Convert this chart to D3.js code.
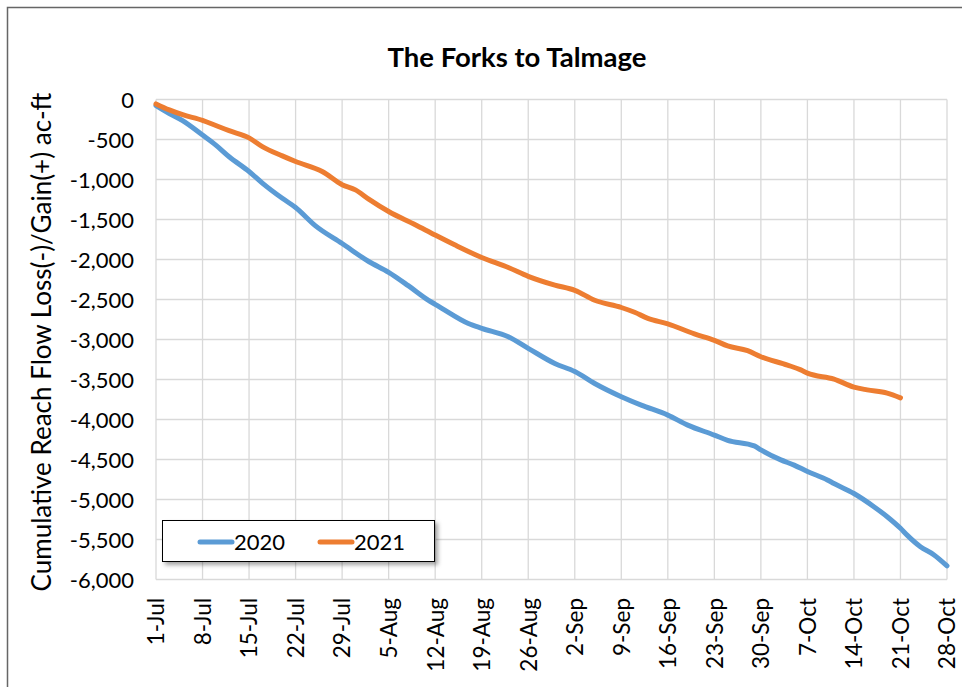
<!DOCTYPE html>
<html>
<head>
<meta charset="utf-8">
<script src="https://cdnjs.cloudflare.com/ajax/libs/d3/7.8.5/d3.min.js"></script>
<style>
  body { margin: 0; background: #fff; }
  text { font-family: Lato, "Open Sans", sans-serif; fill: #000; }
</style>
</head>
<body>
<div id="chart"></div>
<script>
// tick labels on the x axis (weekly)
const weekTicks = ["1-Jul","8-Jul","15-Jul","22-Jul","29-Jul","5-Aug","12-Aug","19-Aug","26-Aug",
  "2-Sep","9-Sep","16-Sep","23-Sep","30-Sep","7-Oct","14-Oct","21-Oct","28-Oct"]
const yTicks = [0,-500,-1000,-1500,-2000,-2500,-3000,-3500,-4000,-4500,-5000,-5500,-6000]

// 2020 series (month-day, cumulative ac-ft)
const dates2020 = ["07-01","07-03","07-05","07-08","07-10","07-12","07-15","07-17","07-20","07-22",
  "07-25","07-29","08-02","08-05","08-08","08-11","08-12","08-13","08-17","08-19","08-23","08-26",
  "08-30","09-02","09-05","09-09","09-12","09-16","09-19","09-23","09-25","09-29","09-30","10-03",
  "10-05","10-07","10-10","10-11","10-14","10-17","10-19","10-21","10-22","10-24","10-26","10-28"]
const values2020 = [-75,-175,-265,-445,-570,-715,-900,-1045,-1235,-1350,
  -1580,-1800,-2025,-2160,-2330,-2510,-2560,-2610,-2800,-2860,-2965,-3110,
  -3300,-3400,-3550,-3715,-3820,-3945,-4070,-4195,-4260,-4330,-4380,-4505,
  -4570,-4650,-4755,-4800,-4925,-5090,-5215,-5360,-5445,-5590,-5690,-5830]

// 2021 series
const dates2021 = ["07-01","07-03","07-05","07-08","07-10","07-12","07-15","07-17","07-20","07-22",
  "07-26","07-29","07-31","08-02","08-05","08-09","08-12","08-15","08-19","08-23","08-26","08-30",
  "09-02","09-05","09-09","09-11","09-13","09-16","09-20","09-23","09-25","09-28","09-30","10-04",
  "10-06","10-07","10-11","10-14","10-16","10-19","10-21"]
const values2021 = [-55,-130,-190,-260,-325,-390,-480,-590,-705,-775,
  -900,-1065,-1130,-1245,-1400,-1565,-1695,-1820,-1975,-2100,-2210,-2320,
  -2385,-2510,-2600,-2660,-2735,-2805,-2930,-3010,-3080,-3140,-3215,-3320,
  -3380,-3420,-3495,-3595,-3630,-3670,-3730]

const seriesNames = ["2020","2021"]
const colors = ["#5B9BD5","#ED7D31"]

const W = 962, H = 687
const parseMD = d3.timeParse("%m-%d")
const parseTick = d3.timeParse("%d-%b")

const series = [
  dates2020.map((d, i) => ({ date: parseMD(d), value: values2020[i] })),
  dates2021.map((d, i) => ({ date: parseMD(d), value: values2021[i] }))
]
const tickDates = weekTicks.map(t => parseTick(t))

const svg = d3.select('#chart')
  .append('svg')
  .attr('width', W)
  .attr('height', H)

const defs = svg.append('defs')
defs.append('filter').attr('id', 'shadow')
  .attr('x', '-10%').attr('y', '-30%').attr('width', '130%').attr('height', '180%')
  .append('feDropShadow')
  .attr('dx', 3).attr('dy', 3).attr('stdDeviation', 2)
  .attr('flood-color', '#000').attr('flood-opacity', 0.35)

// outer chart border
svg.append('rect')
  .attr('x', 7.5).attr('y', 7.5)
  .attr('width', 1000).attr('height', 1000)
  .style('fill', 'none')
  .style('stroke', '#666')
  .style('stroke-width', 1.5)

const x = d3.scaleTime()
  .domain([tickDates[0], tickDates[tickDates.length - 1]])
  .range([156, 947])

const y = d3.scaleLinear()
  .domain([0, -6000])
  .range([99.5, 579.5])

// gridlines
svg.append('g')
  .selectAll('line')
  .data(yTicks)
  .enter()
  .append('line')
  .attr('x1', x.range()[0]).attr('x2', x.range()[1])
  .attr('y1', d => y(d)).attr('y2', d => y(d))
  .style('stroke', '#d9d9d9')
  .style('stroke-width', 1.3)

svg.append('g')
  .selectAll('line')
  .data(tickDates)
  .enter()
  .append('line')
  .attr('x1', d => x(d)).attr('x2', d => x(d))
  .attr('y1', y.range()[0]).attr('y2', y.range()[1])
  .style('stroke', '#d9d9d9')
  .style('stroke-width', 1.3)

// y axis labels
const yAxis = svg.append('g')
  .attr('transform', 'translate(134,0)')
  .call(d3.axisLeft(y).tickValues(yTicks).tickSize(0).tickPadding(0)
    .tickFormat(d => d3.format(",")(d).replace('−', '-')))
yAxis.select('.domain').remove()
yAxis.selectAll('text')
  .style('font-family', 'Lato')
  .style('font-size', '22px')
  .attr('dy', '0.35em')

// x axis labels
const xAxis = svg.append('g')
  .attr('transform', `translate(0,598)`)
  .call(d3.axisBottom(x).tickValues(tickDates).tickSize(0).tickPadding(0)
    .tickFormat(d3.timeFormat("%-d-%b")))
xAxis.select('.domain').remove()
xAxis.selectAll('text')
  .style('font-family', 'Lato')
  .style('font-size', '22.5px')
  .style('text-anchor', 'end')
  .attr('transform', 'rotate(-90)')
  .attr('x', 0)
  .attr('y', 0)
  .attr('dy', '0.35em')

// lines
const line = d3.line()
  .x(d => x(d.date))
  .y(d => y(d.value))
  .curve(d3.curveMonotoneX)

svg.append('g')
  .selectAll('path')
  .data(series)
  .enter()
  .append('path')
  .attr('d', line)
  .style('fill', 'none')
  .style('stroke', (d, i) => colors[i])
  .style('stroke-width', 5)
  .style('stroke-linejoin', 'round')
  .style('stroke-linecap', 'round')

// title
svg.append('text')
  .attr('x', 517)
  .attr('y', 67)
  .attr('text-anchor', 'middle')
  .style('font-size', '27.5px')
  .style('font-weight', 'bold')
  .text('The Forks to Talmage')

// y axis title
svg.append('text')
  .attr('transform', 'translate(51,342) rotate(-90)')
  .attr('text-anchor', 'middle')
  .style('font-size', '26px')
  .text('Cumulative Reach Flow Loss(-)/Gain(+) ac-ft')

// legend
const legend = svg.append('g')
legend.append('rect')
  .attr('x', 162.5).attr('y', 520.5)
  .attr('width', 272).attr('height', 41)
  .style('fill', '#fff')
  .style('stroke', '#000')
  .style('stroke-width', 1)
  .attr('filter', 'url(#shadow)')

const legendX = [200, 320]
seriesNames.forEach((name, i) => {
  legend.append('line')
    .attr('x1', legendX[i]).attr('x2', legendX[i] + 32)
    .attr('y1', 542).attr('y2', 542)
    .style('stroke', colors[i])
    .style('stroke-width', 5)
    .style('stroke-linecap', 'round')
  legend.append('text')
    .attr('x', legendX[i] + 34)
    .attr('y', 550)
    .style('font-size', '22px')
    .text(name)
})
</script>
</body>
</html>
